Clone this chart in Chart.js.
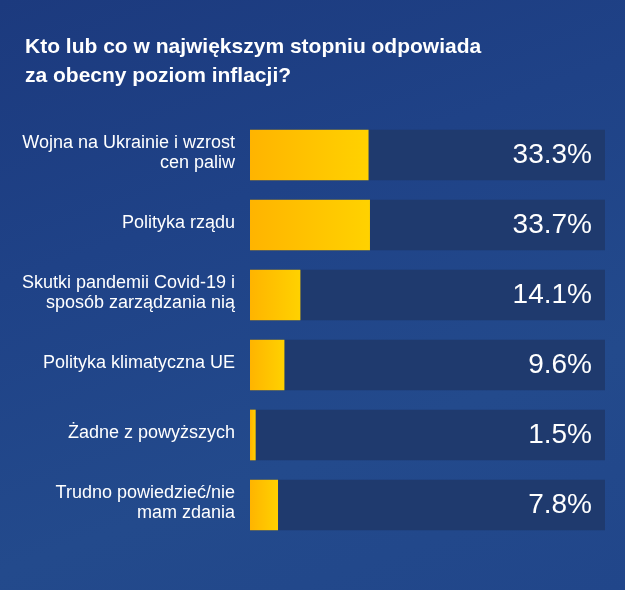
<!DOCTYPE html>
<html lang="pl">
<head>
  <meta charset="UTF-8">
  <title>Inflacja - sondaż</title>
  <script src="https://cdn.jsdelivr.net/npm/chart.js"></script>
  <style>
    body {
      margin: 0;
      background: #1f4286;
    }
    .wrap {
      width: 625px;
      height: 590px;
      background: linear-gradient(160deg, #1c3a7e 0%, #1f4287 35%, #234a8c 70%, #21468a 100%);
    }
    canvas { display: block; }
  </style>
</head>
<body>
  <div class="wrap">
    <canvas id="wykres" width="625" height="590"></canvas>
  </div>

<script>
  // dane z wykresu
  const tytul = ["Kto lub co w największym stopniu odpowiada", "za obecny poziom inflacji?"]
  const kategorie = [
    ["Wojna na Ukrainie i wzrost", "cen paliw"],
    "Polityka rządu",
    ["Skutki pandemii Covid-19 i", "sposób zarządzania nią"],
    "Polityka klimatyczna UE",
    "Żadne z powyższych",
    ["Trudno powiedzieć/nie", "mam zdania"]
  ]
  const wartosci = [33.3, 33.7, 14.1, 9.6, 1.5, 7.8]
  const maksimum = 100

  const FONT = "'Liberation Sans', Arial, sans-serif"

  function gradientPaska(ctx) {
    const chart = ctx.chart
    const x = chart.scales.x
    if (!chart.chartArea || !x || ctx.type !== 'data') {
      return '#ffc200'
    }
    const x0 = x.getPixelForValue(0)
    const x1 = x.getPixelForValue(ctx.parsed.x)
    const g = chart.ctx.createLinearGradient(x0, 0, x1 + 1, 0)
    g.addColorStop(0, '#ffb400')
    g.addColorStop(1, '#ffd200')
    return g
  }

  // procenty po prawej stronie paska
  const etykietyWartosci = {
    id: 'etykietyWartosci',
    afterLayout(chart) {
      // tytul odsuniety od lewej krawedzi, etykiety osi moga zaczynac sie wczesniej
      chart.titleBlock.left = 25
    },
    afterDatasetsDraw(chart) {
      const ctx = chart.ctx
      const meta = chart.getDatasetMeta(0)
      ctx.save()
      ctx.fillStyle = '#ffffff'
      ctx.font = '28px ' + FONT
      ctx.textAlign = 'right'
      ctx.textBaseline = 'middle'
      meta.data.forEach(function (bar, i) {
        ctx.fillText(wartosci[i].toFixed(1) + '%', chart.chartArea.right - 13, bar.y)
      })
      ctx.restore()
    }
  }

  const config = {
    type: 'bar',
    data: {
      labels: kategorie,
      datasets: [
        {
          data: wartosci,
          backgroundColor: gradientPaska,
          barThickness: 50,
          grouped: false,
          order: 0
        },
        {
          data: kategorie.map(function () { return maksimum }),
          backgroundColor: '#1f3a6e',
          barThickness: 50,
          grouped: false,
          order: 1
        }
      ]
    },
    options: {
      indexAxis: 'y',
      responsive: false,
      animation: false,
      layout: {
        padding: { left: 0, right: 20, top: 0, bottom: 50 }
      },
      scales: {
        x: {
          display: false,
          min: 0,
          max: maksimum
        },
        y: {
          grid: { display: false },
          border: { display: false },
          ticks: {
            color: '#ffffff',
            padding: 7,
            labelOffset: -2,
            font: { family: FONT, size: 18, lineHeight: 1.11 }
          },
          afterFit: function (scale) {
            scale.width = 250
          }
        }
      },
      plugins: {
        legend: { display: false },
        tooltip: { enabled: false },
        title: {
          display: true,
          text: tytul,
          align: 'start',
          color: '#ffffff',
          font: { family: FONT, size: 21, weight: 'bold', lineHeight: 1.38 },
          padding: { top: 33, bottom: 29 }
        }
      }
    },
    plugins: [etykietyWartosci]
  }

  const wykres = new Chart(document.getElementById('wykres'), config)
</script>
</body>
</html>
